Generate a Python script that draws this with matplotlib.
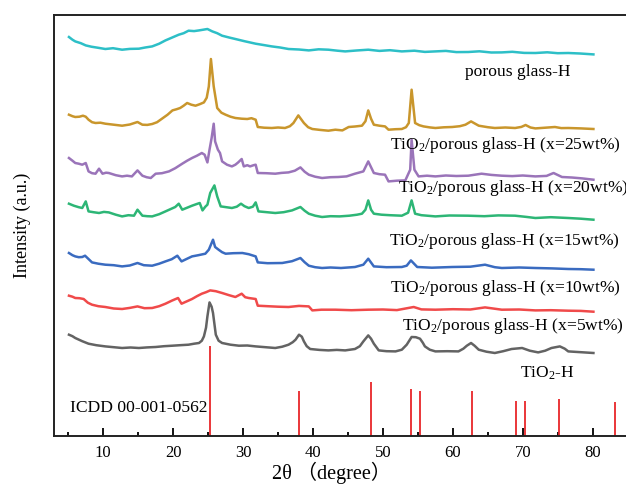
import numpy as np
import matplotlib
matplotlib.use("Agg")
import matplotlib.pyplot as plt
from matplotlib.ticker import MultipleLocator

plt.rcParams['font.family'] = ['Liberation Serif', 'DejaVu Serif']
plt.rcParams['mathtext.fontset'] = 'custom'
plt.rcParams['mathtext.rm'] = 'Liberation Serif'
plt.rcParams['mathtext.it'] = 'Liberation Serif:italic'

# porous glass-H
x_pg = [5.1, 5.6, 6.0, 6.8, 7.5, 8.3, 9.2, 10.3, 11.4, 12.7, 13.8, 15.1, 16.0, 17.0, 18.0, 18.9,
        19.8, 20.8, 21.5, 22.2, 23.0, 23.7, 24.3, 24.9, 25.6, 26.3, 27.0, 28.0, 28.9, 30.2, 31.8,
        33.0, 34.1, 35.3, 36.5, 38.0, 39.4, 40.8, 42.2, 43.5, 44.6, 46.2, 47.9, 49.5, 51.0, 52.7,
        54.5, 56.0, 57.5, 59.0, 60.5, 62.2, 63.8, 65.5, 67.0, 68.5, 70.2, 71.8, 73.5, 75.0, 76.5,
        78.2, 80.1]
y_pg = [398.7, 396, 394.3, 392.5, 390.3, 389, 388, 386.7, 387.5, 386, 386.8, 387, 388.2, 389.3, 392, 395.3,
        398, 401, 402.5, 405, 404.6, 405.3, 406, 406.7, 404.3, 402.5, 400, 398.2, 396.7, 394.5, 392,
        390.6, 389.3, 388.2, 386.7, 386.2, 385.3, 386.4, 386, 385, 384.3, 385.2, 386, 384.8, 385.5, 384.3,
        385, 383.8, 384.3, 384.8, 383.6, 383.7, 384.4, 383.2, 383.3, 383.9, 382.8, 382.7, 383.4, 382.5, 382.7,
        382.2, 381.3]

# TiO2/porous glass-H x=25wt%
x_25 = [5.1, 5.6, 6.0, 6.6, 7.1, 7.5, 7.9, 8.4, 8.9, 9.6, 10.3, 11.5, 12.7, 13.8, 14.9, 15.6, 16.3,
        17.0, 17.7, 18.4, 19.2, 19.9, 20.5, 21.0, 21.5, 22.0, 22.6, 23.2, 23.8, 24.4, 24.8, 25.1,
        25.4, 25.8, 26.3, 26.9, 27.5, 28.2, 28.9, 29.8, 30.6, 31.2, 31.8, 32.1, 33.0, 34.1, 35.0,
        36.0, 36.7, 37.2, 37.9, 38.7, 39.3, 39.9, 41.0, 42.2, 43.2, 44.2, 45.1, 46.0, 47.0, 47.5,
        47.9, 48.3, 48.7, 49.5, 50.3, 50.8, 51.8, 52.7, 53.3, 53.7, 54.1, 54.6, 55.2, 55.8, 56.7,
        57.5, 58.7, 59.9, 61.0, 61.8, 62.6, 63.7, 65.0, 66.0, 67.5, 68.9, 69.8, 70.4, 71.1, 71.8,
        73.2, 74.6, 75.5, 76.5, 78.3, 80.1]
y_25 = [321, 319.5, 318.7, 319, 320, 319, 316, 313.5, 312.7, 313, 312, 311, 310, 311.2, 313.7, 311, 310.8,
        311.7, 313.5, 317, 321, 325.3, 326.5, 327.7, 330, 332.7, 331, 330, 331.5, 333.3, 338, 349.3,
        376.7, 349.3, 327.7, 323, 321, 319, 317.7, 317, 316.7, 317.5, 316, 308.7, 308, 307.7, 308.2,
        307.7, 309.5, 312.7, 320.3, 312.7, 308.5, 306.7, 305.8, 305, 306, 305.3, 308.7, 309.2, 310, 314.5,
        325.3, 317, 311, 310, 309.3, 306, 306.5, 306.7, 308.5, 312.7, 346, 312.7, 310.5, 309.3, 308.3,
        307.7, 308.4, 308.7, 309.5, 311, 314.3, 310, 308.5, 307.7, 308.2, 307.7, 308.8, 310.7, 308.2, 307.3,
        308, 308.7, 307.6, 307.7, 307.3, 306.7]

# x=20wt%
x_20 = [5.1, 5.6, 6.0, 6.5, 7.0, 7.5, 7.9, 8.4, 8.9, 9.4, 9.9, 10.4, 10.8, 11.8, 12.7, 13.4, 14.1,
        14.9, 15.6, 16.2, 16.8, 17.5, 18.4, 19.4, 20.3, 21.3, 22.0, 22.7, 23.4, 24.1, 24.5, 24.9,
        25.2, 25.5, 25.8, 26.0, 26.4, 26.7, 27.0, 27.7, 28.4, 28.9, 29.3, 29.8, 30.1, 30.6, 31.0,
        31.5, 31.8, 32.1, 33.3, 34.6, 35.5, 36.5, 37.4, 38.2, 38.8, 39.4, 40.3, 41.3, 42.5, 43.6,
        44.8, 46.0, 47.2, 47.9, 48.7, 49.5, 50.3, 50.8, 52.0, 53.2, 53.9, 54.1, 54.5, 55.1, 56.3,
        57.5, 59.0, 60.5, 62.2, 64.1, 65.5, 67.0, 68.5, 70.0, 71.8, 73.4, 74.4, 75.6, 77.0, 78.5, 80.1]
y_20 = [277.7, 275, 272.7, 272, 271, 272.7, 264.3, 262.5, 262, 267, 262, 263, 262.7, 260.5, 259.3, 260, 259.3,
        265.3, 260, 258.5, 257.7, 262, 262.5, 264.3, 267.5, 272, 275, 277.7, 280, 282.7, 281, 273.3,
        286, 297.7, 312, 294.3, 286, 282.7, 274.3, 271, 269.3, 271, 273.3, 276.7, 269.3, 270.5, 269.3,
        270.5, 271, 262.7, 262.5, 262, 262.8, 263.3, 265, 268.3, 264, 261, 259, 257.7, 258.5, 258.7,
        259.3, 262, 264.3, 274.3, 262.7, 261.5, 261, 254.3, 255, 255.3, 266, 296, 266, 259.3, 260,
        259.3, 260.2, 259.7, 260, 262, 260.8, 260, 259.6, 260.2, 259.3, 259.8, 262.7, 258.7, 258.2, 257.3, 256]

# x=15wt%
x_15 = [5.1, 5.8, 6.5, 7.0, 7.5, 7.9, 8.6, 9.4, 10.1, 10.8, 11.8, 12.7, 13.6, 14.4, 14.9, 15.6, 16.3,
        17.0, 18.0, 18.9, 19.6, 20.3, 20.8, 21.3, 22.0, 22.7, 23.3, 23.8, 24.2, 24.6, 24.9, 25.3,
        25.9, 26.3, 26.8, 27.6, 28.4, 29.1, 29.7, 30.2, 30.8, 31.4, 31.8, 32.2, 33.4, 34.6, 35.8,
        37.0, 38.2, 38.8, 39.4, 40.3, 41.3, 42.5, 43.8, 45.2, 46.3, 47.0, 47.5, 47.9, 48.3, 48.7,
        49.8, 51.0, 52.7, 53.6, 54.1, 54.6, 55.5, 57.5, 59.5, 62.2, 64.5, 66.5, 68.9, 70.5, 71.8,
        74.0, 76.5, 78.3, 80.1]
y_15 = [232, 230, 228.5, 227.7, 234.3, 224.3, 223.5, 222.7, 223.8, 223.3, 221, 219.3, 220.5, 220, 226, 220, 219.5,
        219.3, 221.5, 224.3, 226.5, 228.7, 232, 226, 228, 230, 231.5, 232.7, 225.3, 229, 231, 242.7,
        250.3, 239.3, 229.3, 228.5, 227.7, 229, 232, 229.5, 227.7, 229, 233.3, 224.3, 223.5, 222.7, 223.5,
        225.3, 228.7, 225, 222, 220, 218.7, 219.5, 219.3, 220, 221, 222, 226, 235.3, 226, 222,
        221, 220.5, 220, 223, 235.3, 222, 220.5, 219.3, 220.2, 220, 219.5, 220.3, 220, 218.8, 217.7,
        218.5, 217.7, 217, 216]

# x=10wt%
x_10 = [5.1, 5.6, 6.0, 6.5, 7.0, 7.4, 8.0, 8.4, 9.3, 10.3, 11.5, 12.7, 13.8, 14.9, 15.8, 17.0, 18.0,
        18.9, 19.8, 20.6, 21.2, 22.0, 22.7, 23.6, 24.6, 25.1, 25.4, 25.7, 26.0, 26.5, 27.0, 27.5,
        28.6, 29.9, 30.8, 31.8, 32.1, 33.5, 35.6, 37.0, 38.2, 38.8, 39.4, 40.3, 41.3, 42.5, 44.0,
        46.0, 47.2, 47.9, 48.7, 50.5, 52.7, 53.4, 54.0, 54.9, 57.0, 59.9, 62.5, 64.6, 66.0, 67.0,
        69.5, 71.8, 74.2, 76.5, 78.3, 80.1]
y_10 = [182.7, 180.5, 179.3, 178.5, 178.7, 180, 176, 173.3, 172, 171, 170.5, 169.3, 170.2, 172.7, 170.5, 170, 172,
        174.3, 176.5, 180, 174.3, 177, 179.3, 180.5, 182, 186, 191, 196, 188.7, 186, 183.5, 182,
        182.5, 182.7, 181.5, 179.3, 173.3, 172.5, 172.7, 174.5, 177.7, 173.5, 170, 168.5, 167.7, 168.2, 167.7,
        168.7, 171, 177, 169.3, 168.5, 168.7, 170, 175.3, 168.7, 168, 168.7, 169, 171, 168.5, 167.7,
        168.2, 167.7, 167.3, 166.7, 166.5, 166]

# x=5wt%
x_5 = [5.1, 5.6, 6.0, 6.6, 7.2, 7.8, 8.4, 9.3, 10.3, 11.5, 12.7, 13.8, 14.9, 15.9, 17.0, 18.0, 18.9,
       19.8, 20.7, 21.2, 22.0, 22.7, 23.4, 24.1, 24.7, 25.3, 26.1, 27.0, 28.0, 28.9, 29.8, 30.3,
       30.8, 31.8, 32.1, 33.5, 35.0, 36.5, 38.0, 39.4, 39.9, 41.2, 43.2, 45.5, 47.9, 50.0, 52.0,
       54.4, 55.5, 57.5, 60.0, 62.5, 64.6, 67.0, 69.5, 71.8, 74.0, 76.5, 78.3, 80.1]
y_5 = [140, 139, 137.7, 137.5, 136.7, 133, 131, 129.5, 128.7, 127.2, 126.7, 127.8, 129.3, 127.5, 127.7, 129.5, 132,
       135, 137.7, 132, 134.5, 136.7, 139.5, 142, 143.5, 145.3, 144.5, 142.7, 140.5, 138.7, 142, 138.5,
       137.7, 136.7, 130, 129.5, 129, 128.7, 129.8, 129.3, 125.3, 126, 126, 125.5, 126, 126.2, 125.6,
       128.7, 126.3, 126, 126.5, 126.2, 128.3, 126, 126.2, 125.3, 125.5, 125, 124.8, 124]

# TiO2-H
x_ti = [5.1, 5.6, 6.0, 7.0, 7.9, 9.0, 10.3, 11.5, 12.7, 13.9, 15.1, 16.3, 17.5, 18.7, 19.9, 21.0, 22.2,
        23.0, 23.7, 24.1, 24.4, 24.7, 24.9, 25.2, 25.5, 25.7, 26.1, 26.5, 27.0, 28.2, 29.4, 30.6,
        31.8, 33.2, 34.6, 35.6, 36.5, 37.1, 37.5, 38.0, 38.4, 38.7, 39.1, 39.6, 40.9, 42.2, 43.4,
        44.6, 46.0, 46.7, 47.2, 47.9, 48.3, 48.7, 49.4, 50.5, 51.8, 52.7, 53.4, 54.1, 54.7, 55.3,
        55.7, 56.0, 56.7, 57.5, 59.2, 60.8, 61.5, 62.0, 62.6, 63.1, 63.7, 64.8, 66.0, 67.2, 68.4,
        69.9, 71.0, 72.2, 73.2, 74.1, 75.3, 76.0, 76.5, 78.3, 80.1]
y_ti = [101, 99.5, 97.7, 94.5, 92, 90.5, 89.3, 88.5, 87.7, 88.2, 87.7, 88.3, 88.7, 89.5, 90, 90.5, 91,
        92, 92.7, 95, 99.3, 108, 119.3, 133.3, 129, 122.7, 101, 95, 92.7, 91, 90, 90.2,
        89.3, 88.5, 87.7, 89, 91, 93.5, 96, 101, 99, 94.3, 89.5, 86.7, 85.8, 85.3, 85.8,
        85.3, 86.7, 89.5, 94.3, 100.3, 97, 92, 85.3, 84.5, 84.3, 86, 91, 98.7, 98.5, 97,
        93, 89.3, 86, 84.3, 84.5, 84.3, 87, 90, 92.7, 90, 86, 84, 82.7, 84.5, 86.7,
        87.7, 85, 83.3, 85, 87.7, 89.3, 87, 84.3, 83.5, 82.7]

# ICDD 00-001-0562 reference lines
icdd_pos = [25.3, 38.0, 48.3, 54.0, 55.3, 62.8, 69.0, 70.3, 75.2, 83.2]
icdd_int = [90, 44.3, 53.7, 46.7, 44.3, 44.3, 35, 35, 36.7, 33.7]

curves = [
    (x_pg, y_pg, '#2dbfc7'),
    (x_25, y_25, '#c9962c'),
    (x_20, y_20, '#9a74b9'),
    (x_15, y_15, '#2db676'),
    (x_10, y_10, '#3a6bc0'),
    (x_5, y_5, '#f04a4a'),
    (x_ti, y_ti, '#636363'),
]

fig = plt.figure(figsize=(6.26, 4.84), dpi=100)
ax = fig.add_axes([0.0867, 0.0998, 0.9495, 0.8692])

for xs, ys, c in curves:
    ax.plot(xs, ys, color=c, lw=1.8)

ax.vlines(icdd_pos, 0, icdd_int, color='#e8262a', lw=1.3)

tfs = 12.6
ax.text(69.3, 364, 'porous glass-H', fontsize=tfs, ha='center', va='center')
ax.text(51.0, 291, 'TiO$_2$/porous glass-H (x=25wt%)', fontsize=tfs, va='center')
ax.text(52.2, 247.7, 'TiO$_2$/porous glass-H (x=20wt%)', fontsize=tfs, va='center')
ax.text(50.8, 194.3, 'TiO$_2$/porous glass-H (x=15wt%)', fontsize=tfs, va='center')
ax.text(51.0, 147.7, 'TiO$_2$/porous glass-H (x=10wt%)', fontsize=tfs, va='center')
ax.text(52.7, 109.3, 'TiO$_2$/porous glass-H (x=5wt%)', fontsize=tfs, va='center')
ax.text(69.6, 62.7, 'TiO$_2$-H', fontsize=tfs, va='center')
ax.text(5.3, 28, 'ICDD 00-001-0562', fontsize=tfs, va='center')

ax.set_xlim(3, 88)
ax.set_ylim(0, 420.7)
ax.xaxis.set_major_locator(MultipleLocator(10))
ax.xaxis.set_minor_locator(MultipleLocator(5))
ax.tick_params(axis='x', which='major', direction='in', length=6, width=1.3, labelsize=12, pad=7)
ax.tick_params(axis='x', which='minor', direction='in', length=2.6, width=1.3)
ax.set_yticks([])
ax.spines['right'].set_visible(False)
for s in ['left', 'bottom', 'top']:
    ax.spines[s].set_linewidth(1.4)
    ax.spines[s].set_color('#222222')

ax.set_xlabel('2θ （degree）', fontsize=14.5, family=['Liberation Serif', 'Noto Sans CJK SC'])
ax.xaxis.set_label_coords(0.467, -0.089)
ax.xaxis.label.set_va('center')
ax.set_ylabel('Intensity (a.u.)', fontsize=13)
ax.yaxis.set_label_coords(-0.054, 0.5)
ax.yaxis.label.set_va('center')

fig.savefig('out.png', dpi=100)
